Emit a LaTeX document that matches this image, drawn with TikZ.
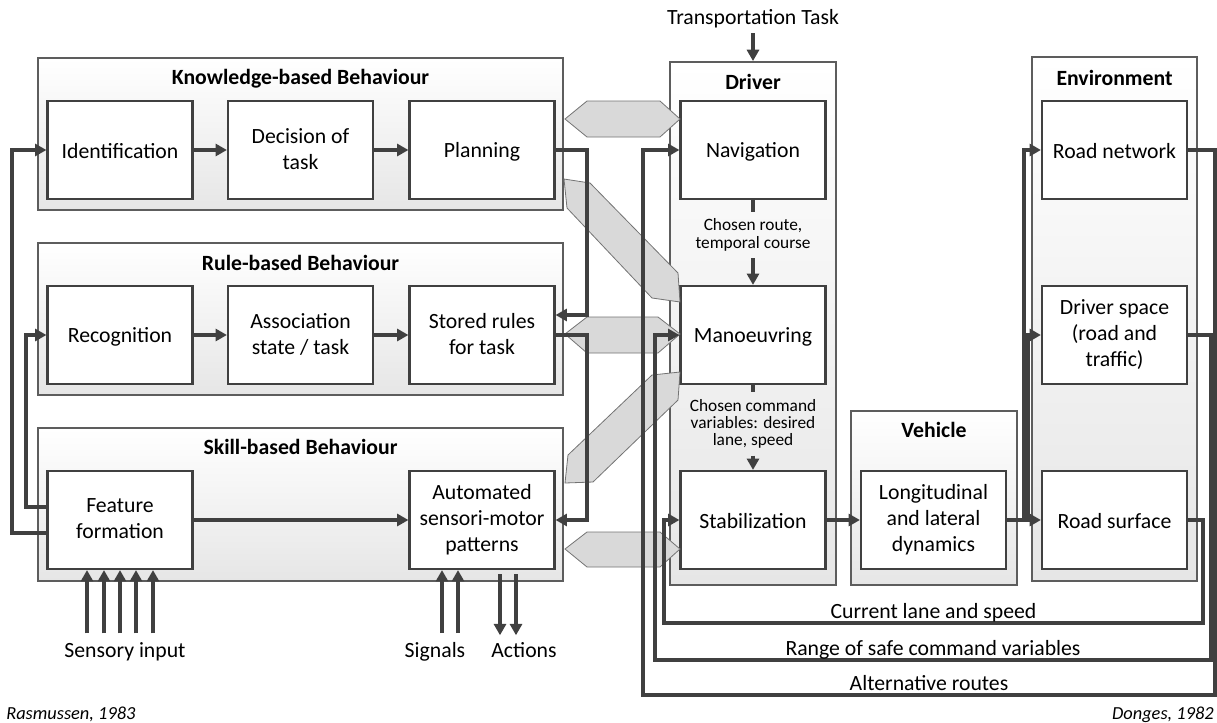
\documentclass[tikz,border=0pt]{standalone}
\usepackage{fontspec}
\setmainfont{Carlito}
\usepackage{tikz}
\usetikzlibrary{arrows.meta,calc}
\definecolor{lncol}{RGB}{64,64,64}
\definecolor{grpbot}{RGB}{230,230,230}
\definecolor{bandfill}{RGB}{217,217,217}
\definecolor{bandline}{RGB}{115,115,115}
\newcommand\boxstrut{\rule[-2pt]{0pt}{16.5pt}}
\tikzset{
blk/.style = {rectangle, draw=lncol, line width=1.6pt, fill=white, minimum width=#1, minimum height=73.5pt, align=center, inner sep=2pt, font=\fontsize{16.3pt}{19.5pt}\selectfont, execute at begin node=\boxstrut, execute at end node=\boxstrut},
blk/.default = 108.75pt, % width of the inner boxes
grp/.style = {rectangle, draw=lncol!85, line width=1.4pt, top color=white, bottom color=grpbot, inner sep=0pt},
ttl/.style = {font=\fontsize{16.3pt}{19.5pt}\selectfont\bfseries},
txt/.style = {font=\fontsize{16.3pt}{19.5pt}\selectfont},
sml/.style = {font=\fontsize{13pt}{13pt}\selectfont, align=center, inner sep=5pt},
crd/.style = {font=\fontsize{13.8pt}{16pt}\selectfont\itshape, inner sep=0pt},
arr/.style = {draw=lncol, line width=2.4pt, -{Triangle[length=8.5pt,width=9pt]}},
ln/.style = {draw=lncol, line width=2.4pt},
band/.style = {fill=bandfill, draw=bandline, line width=0.6pt},
loop/.style = {txt, anchor=base, inner sep=0pt, yshift=3.5pt},
}

\begin{document}
\begin{tikzpicture}[x=0.75pt, y=-0.75pt]
    \clip (0,0) rectangle (1217,722);

    % behaviour levels
    \node[grp, minimum width=393.75pt, minimum height=114pt] (kbb) at (300.5,134) {};
    \node[grp, minimum width=393.75pt, minimum height=114pt] (rbb) at (300.5,319) {};
    \node[grp, minimum width=393.75pt, minimum height=114.75pt] (sbb) at (300.5,504.5) {};
    \node[ttl] (kbbT) at (300.5,79) {Knowledge-based Behaviour};
    \node[ttl] (rbbT) at (300.5,263) {Rule-based Behaviour};
    \node[ttl] (sbbT) at (300.5,447) {Skill-based Behaviour};

    % driver, vehicle, environment
    \node[grp, minimum width=124.5pt, minimum height=392.25pt] (drv) at (753,323.5) {};
    \node[grp, minimum width=124.5pt, minimum height=130.5pt] (veh) at (934,498) {};
    \node[grp, minimum width=123.75pt, minimum height=393pt] (env) at (1114.5,319) {};
    \node[ttl] (drvT) at (753,82) {Driver};
    \node[ttl] (vehT) at (934,430) {Vehicle};
    \node[ttl] (envT) at (1114.5,78) {Environment};

    \node[blk] (ident) at (120,150) {Identification};
    \node[blk] (decis) at (300.5,150) {Decision of\\task};
    \node[blk] (plan) at (482,150) {Planning};
    \node[blk] (recog) at (120,335) {Recognition};
    \node[blk] (assoc) at (300.5,335) {Association\\state / task};
    \node[blk] (stored) at (482,335) {Stored rules\\for task};
    \node[blk] (feat) at (120,520) {Feature\\formation};
    \node[blk] (auto) at (482,520) {Automated\\sensori-motor\\patterns};

    \node[blk] (nav) at (753,150) {Navigation};
    \node[blk] (manv) at (753,335) {Manoeuvring};
    \node[blk] (stab) at (753,520) {Stabilization};
    \node[blk] (longi) at (933.5,520) {Longitudinal\\and lateral\\dynamics};
    \node[blk] (roadnet) at (1114.5,150) {Road network};
    \node[blk] (drvsp) at (1114.5,335) {Driver space\\(road and\\traffic)};
    \node[blk] (roadsf) at (1114.5,520) {Road surface};

    \node[sml] (navlbl) at (753,235) {Chosen route,\\temporal course};
    \node[sml] (manvlbl) at (753,424) {Chosen command\\variables: desired\\lane, speed};
    \node[txt] (trans) at (753,19) {Transportation Task};
    \node[txt, anchor=base] (sens) at (125,657) {Sensory input};
    \node[txt, anchor=base] (sig) at (435,657) {Signals};
    \node[txt, anchor=base] (act) at (524,657) {Actions};
    \node[crd, anchor=base west] (rasm) at (6,719) {Rasmussen, 1983};
    \node[crd, anchor=base east] (dong) at (1214,719) {Donges, 1982};

    % links between the two models
    \draw[band] (565,119) -- (587,101) -- (660,101) -- (680,119) -- (660,137) -- (587,137) -- cycle;
    \draw[band] (564,179) -- (590,183) -- (678,273) -- (680,302) -- (652,298) -- (567,208) -- cycle;
    \draw[band] (565,334) -- (587,317) -- (658,317) -- (680,334) -- (658,353) -- (587,353) -- cycle;
    \draw[band] (568,455) -- (652,375) -- (680,372) -- (678,400) -- (593,482) -- (565,483) -- cycle;
    \draw[band] (565,549) -- (587,532) -- (660,532) -- (680,549) -- (660,567) -- (587,567) -- cycle;

    \draw[arr] (ident) -- (decis);
    \draw[arr] (decis) -- (plan);
    \draw[arr] (recog) -- (assoc);
    \draw[arr] (assoc) -- (stored);
    \draw[arr] (feat) -- (auto);
    \draw[arr] (plan.east) -- (587,150) |- ($(stored.east)+(0,-20)$);
    \draw[arr] (stored.east) -- (587,335) |- (auto.east);
    \draw[arr] ($(feat.west)+(0,-13)$) -- (26,507) |- (recog.west);
    \draw[arr] ($(feat.west)+(0,13)$) -- (12,533) |- (ident.west);
    \foreach \dx in {-33,-16,0,16,33}
        \draw[arr] ($(feat.south |- sens.north)+(\dx,-4)$) -- ($(feat.south)+(\dx,0)$);
    \foreach \dx in {-40,-24}
        \draw[arr] ($(auto.south |- sig.north)+(\dx,-4)$) -- ($(auto.south)+(\dx,0)$);
    \foreach \dx in {18,34}
        \draw[arr] ($(auto.south)+(\dx,4)$) -- ($(auto.south |- act.north)+(\dx,-2)$);

    \draw[arr] (trans) -- (drv.north);
    \draw[ln] (nav.south) -- (navlbl.north);
    \draw[arr] (navlbl.south) -- (manv.north);
    \draw[ln] (manv.south) -- (manvlbl.north);
    \draw[arr] (manvlbl.south) -- (stab.north);
    \draw[arr] (stab) -- (longi);
    \draw[arr] (longi) -- (roadsf);
    \draw[arr] (longi.east) -- (1024,520) |- (roadnet.west);
    \draw[arr] (longi.east) -- (1028,520) |- (drvsp.west);

    % feedback from the environment
    \draw[arr] (roadsf.east) -| (1203,623) -- node[loop] (curlbl) {Current lane and speed} (664,623) |- (stab.west);
    \draw[arr] (drvsp.east) -| (1211,660) -- node[loop] (rnglbl) {Range of safe command variables} (655,660) |- (manv.west);
    \draw[arr] (roadnet.east) -| (1215,695) -- node[loop] (altlbl) {Alternative routes} (643,695) |- (nav.west);
\end{tikzpicture}
\end{document}
